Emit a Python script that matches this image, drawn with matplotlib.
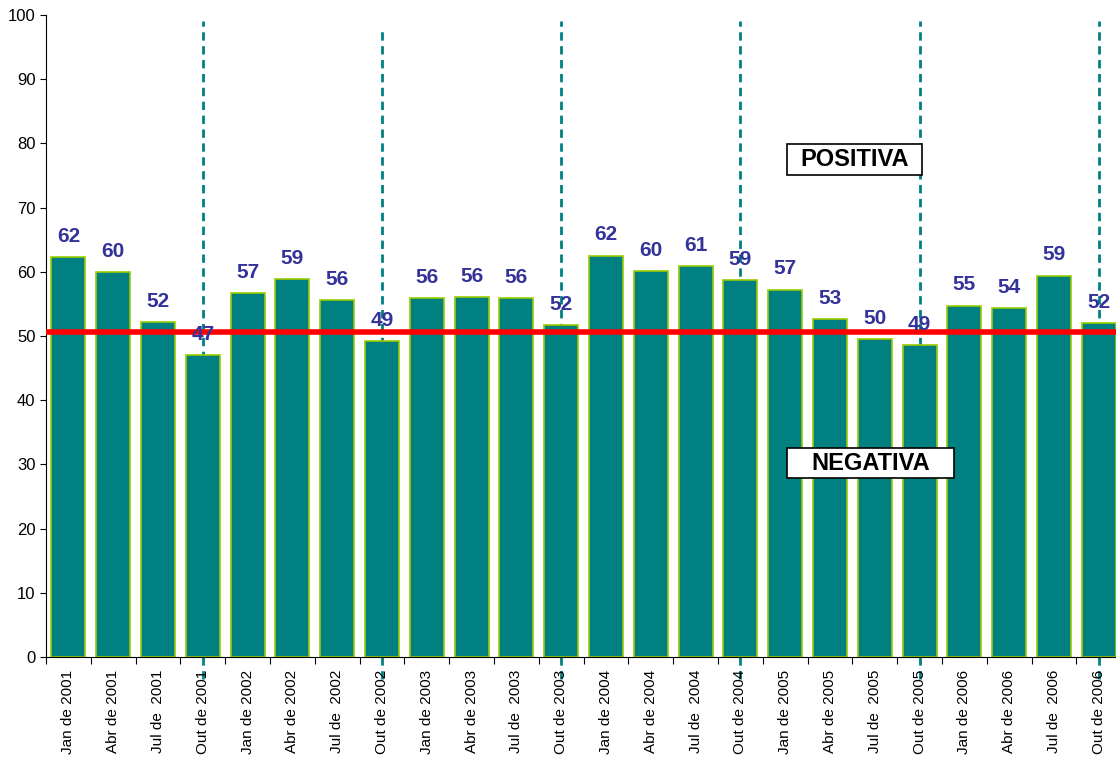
import matplotlib
matplotlib.use("Agg")
import matplotlib.pyplot as plt
from matplotlib.patches import Rectangle

plt.rcParams['font.family'] = ['Liberation Sans', 'DejaVu Sans']

categories = ["Jan de 2001", "Abr de 2001", "Jul de  2001", "Out de 2001",
              "Jan de 2002", "Abr de 2002", "Jul de  2002", "Out de 2002",
              "Jan de 2003", "Abr de 2003", "Jul de  2003", "Out de 2003",
              "Jan de 2004", "Abr de 2004", "Jul de  2004", "Out de 2004",
              "Jan de 2005", "Abr de 2005", "Jul de  2005", "Out de 2005",
              "Jan de 2006", "Abr de 2006", "Jul de  2006", "Out de 2006"]
values = [62.3, 59.9, 52.2, 47.0, 56.7, 58.9, 55.6, 49.2,
          55.9, 56.1, 55.9, 51.7, 62.5, 60.1, 60.9, 58.7,
          57.2, 52.6, 49.5, 48.6, 54.7, 54.3, 59.4, 52.0]
labels = [62, 60, 52, 47, 57, 59, 56, 49, 56, 56, 56, 52,
          62, 60, 61, 59, 57, 53, 50, 49, 55, 54, 59, 52]
reference_value = 50.6
divider_idx = [3, 7, 11, 15, 19, 23]
divider_top = [99, 97.5, 99, 99, 99, 99]
yticks = list(range(0, 101, 10))

fig = plt.figure(figsize=(11.16, 7.6), dpi=100)
ax = fig.add_axes([46/1116, 1-657/760, 24*44.8/1116, (657-15)/760])

x = list(range(len(categories)))

# dashed dividers (behind bars, extending under axis)
ax.vlines(divider_idx, -3.5, divider_top, colors='#008080', linestyles=(0, (3, 2)),
          linewidth=2, zorder=1, clip_on=False)

ax.bar(x, values, width=0.76, color='#008080', edgecolor='#99cc00', linewidth=1.2, zorder=2)

for xi, v, lab in zip(x, values, labels):
    ax.annotate(str(lab), (xi, v), xytext=(0, 15), textcoords='offset points',
                ha='center', va='center', fontsize=15, fontweight='bold',
                color='#333399', zorder=5)

ax.axhline(reference_value, color='#ff0000', linewidth=4, zorder=4)

# text boxes
ax.add_patch(Rectangle((16.04, 75.1), 3.01, 4.8, facecolor='white', edgecolor='black',
                       linewidth=1.2, zorder=6))
ax.text(17.55, 77.5, "POSITIVA", ha='center', va='center', fontsize=17,
        fontweight='bold', color='black', zorder=7)
ax.add_patch(Rectangle((16.04, 27.9), 3.73, 4.65, facecolor='white', edgecolor='black',
                       linewidth=1.2, zorder=6))
ax.text(17.9, 30.2, "NEGATIVA", ha='center', va='center', fontsize=17,
        fontweight='bold', color='black', zorder=7)

ax.set_xlim(-0.5, len(categories) - 0.5)
ax.set_ylim(0, 100)
ax.set_yticks(yticks)
ax.tick_params(axis='y', labelsize=12, length=4, direction='out')

ax.set_xticks([i - 0.5 for i in range(len(categories) + 1)])
ax.set_xticklabels([])
ax.tick_params(axis='x', which='major', length=5, direction='out')
ax.set_xticks(x, minor=True)
ax.set_xticklabels(categories, minor=True, rotation=90, fontsize=11)
ax.tick_params(axis='x', which='minor', length=0, pad=9)

for s in ['top', 'right']:
    ax.spines[s].set_visible(False)
ax.spines['left'].set_color('black')
ax.spines['bottom'].set_color('black')

fig.savefig('out.png', dpi=100)
